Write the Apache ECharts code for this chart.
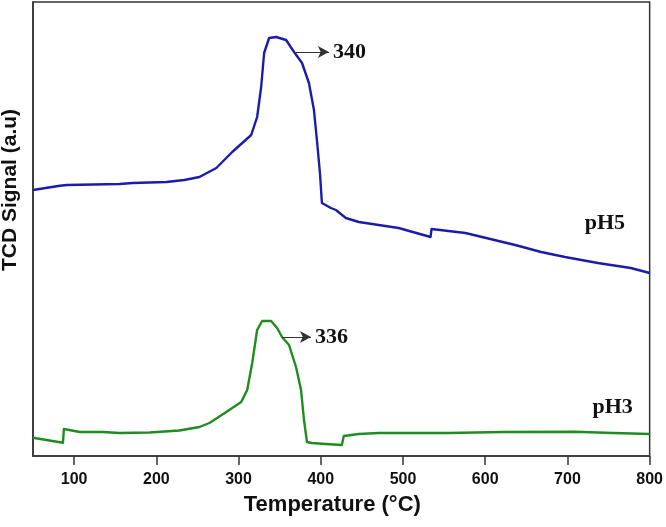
<!DOCTYPE html>
<html>
<head>
<meta charset="utf-8">
<script src="https://cdn.jsdelivr.net/npm/echarts@6/dist/echarts.min.js"></script>
<style>
	html, body { margin: 0; padding: 0; background: #fff; }
	#chart { width: 666px; height: 527px; }
</style>
</head>
<body>
<div id="chart"></div>
<script>
	// pH5 curve (temperature in °C, signal in arbitrary units)
	const tempPH5 = [50, 82.7, 91.2, 155.4, 171.2, 212.4, 234, 252.4, 273, 292.3,
		315.4, 322.6, 327.5, 331.1, 337.2, 345.7, 357.8, 367.5, 377.2, 385.6,
		391.7, 395.3, 399, 401.4, 412.3, 418.4, 430.5, 446.3, 470.5, 494.7,
		533.5, 534.7, 555.3, 575.9, 636.5, 668, 697, 737, 777, 800]
	const signalPH5 = [266, 270.3, 271, 272, 273, 274, 276, 279, 288, 304,
		321, 339, 369, 403, 418, 419, 416, 404, 393, 373,
		346, 316, 283, 253, 248, 246, 238, 234, 231, 228,
		219, 227, 225, 223, 211, 204, 199, 193, 188, 183]

	// pH3 curve
	const tempPH3 = [50, 86.4, 87.6, 107, 134.8, 155.4, 191.8, 228.1, 252.4, 264.5,
		285.1, 303.2, 310.5, 316.6, 322.6, 328.7, 339.6, 346.9, 352.9, 361.4,
		369.9, 376, 379.6, 383.2, 389.3, 406.2, 425.6, 428, 446.3, 470.5,
		555.3, 622, 709.2, 745.6, 800]
	const signalPH3 = [18.3, 13.3, 27, 24, 24, 23, 23.5, 25.5, 29, 33,
		44, 54, 66, 93, 126, 135, 135, 128, 119, 111,
		89, 66, 36, 14, 13, 12, 11, 20, 22, 23,
		23, 24, 24.3, 23.3, 22]

	const xTicks = [100, 200, 300, 400, 500, 600, 700, 800]

	// peak annotations: [pH5, pH3]
	const peakLabels = ['340', '336']
	const arrowFrom = [[367.5, 404], [352.9, 119]]
	const arrowTo = [[409.9, 404], [388.1, 119]]
	const sampleNames = ['pH5', 'pH3']
	const samplePos = [[745.5, 233], [755, 49]]

	function pairs(xs, ys) {
		return xs.map((x, i) => [x, ys[i]])
	}

	const serifBold = {
		fontFamily: 'Liberation Serif',
		fontWeight: 'bold',
		fontSize: 22,
		color: '#111'
	}

	function seriesFor(i, xs, ys, color) {
		return {
			name: sampleNames[i],
			type: 'line',
			data: pairs(xs, ys),
			showSymbol: false,
			lineStyle: { color: color, width: 2.4, join: 'round' },
			itemStyle: { color: color },
			animation: false,
			markLine: {
				silent: true,
				symbol: ['none', 'arrow'],
				symbolSize: [9, 11],
				lineStyle: { color: '#333', width: 1, type: 'solid' },
				label: Object.assign({ show: true, position: 'end', distance: 4, formatter: peakLabels[i] }, serifBold),
				data: [[{ coord: arrowFrom[i] }, { coord: arrowTo[i] }]]
			},
			markPoint: {
				silent: true,
				symbol: 'circle',
				symbolSize: 1,
				itemStyle: { color: 'rgba(0,0,0,0)' },
				label: Object.assign({ show: true, position: 'inside', formatter: sampleNames[i] }, serifBold),
				data: [{ coord: samplePos[i] }]
			}
		}
	}

	const chart = echarts.init(document.getElementById('chart'))
	chart.setOption({
		backgroundColor: '#fff',
		animation: false,
		grid: {
			left: 33, right: 14, top: 2, bottom: 71,
			show: true,
			borderColor: '#333',
			borderWidth: 1.5
		},
		xAxis: {
			type: 'value',
			min: 50,
			max: 800,
			name: 'Temperature (°C)',
			nameLocation: 'middle',
			nameGap: 38,
			nameTextStyle: {
				fontFamily: 'Liberation Sans',
				fontWeight: 'bold',
				fontSize: 22,
				color: '#111',
				padding: [0, 18, 0, 0]
			},
			axisLine: { lineStyle: { color: '#333', width: 1.5 } },
			axisTick: { show: true, inside: false, length: 9, customValues: xTicks, lineStyle: { color: '#333', width: 1.5 } },
			axisLabel: {
				customValues: xTicks,
				fontFamily: 'Liberation Sans',
				fontWeight: 'bold',
				fontSize: 16,
				color: '#111',
				margin: 16
			},
			splitLine: { show: false }
		},
		yAxis: {
			type: 'value',
			min: 0,
			max: 454,
			axisLine: { show: true, lineStyle: { color: '#333', width: 1.5 } },
			axisTick: { show: false },
			axisLabel: { show: false },
			splitLine: { show: false }
		},
		graphic: [{
			type: 'text',
			x: 10,
			y: 190,
			rotation: Math.PI / 2,
			style: {
				text: 'TCD Signal (a.u)',
				fontFamily: 'Liberation Sans',
				fontWeight: 'bold',
				fontSize: 21,
				fill: '#111',
				align: 'center',
				verticalAlign: 'middle'
			}
		}],
		series: [
			seriesFor(0, tempPH5, signalPH5, '#1c1caa'),
			seriesFor(1, tempPH3, signalPH3, '#1f8c1f')
		]
	})
</script>
</body>
</html>
